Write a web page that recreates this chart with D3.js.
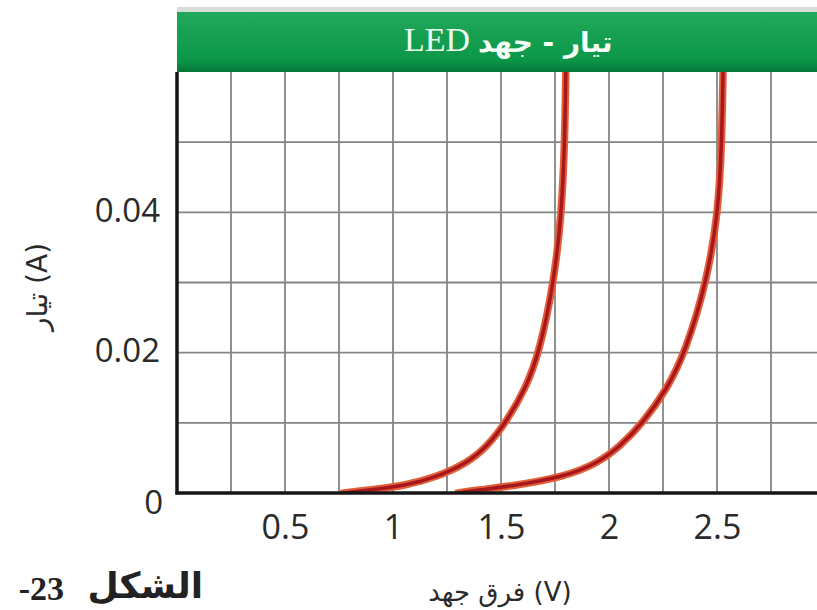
<!DOCTYPE html>
<html>
<head>
<meta charset="utf-8">
<script src="https://cdn.jsdelivr.net/npm/d3@7"></script>
<style>
  body { margin: 0; background: #fff; }
  svg { display: block; }
  .tick text { font-family: "Open Sans", sans-serif; fill: #2a2a2a; }
</style>
</head>
<body>
<div id="chart"></div>
<script>
// current (A), shared by both curves
const current = [0, 0.0004, 0.0011, 0.0023, 0.0042, 0.0066, 0.01, 0.015, 0.02, 0.03, 0.04, 0.05, 0.06];
// voltage (V) of the left and right LED at those currents
const voltsLeft  = [0.77, 0.89, 1.063, 1.202, 1.34, 1.435, 1.522, 1.616, 1.677, 1.745, 1.781, 1.795, 1.80];
const voltsRight = [1.30, 1.39, 1.573, 1.789, 1.945, 2.05, 2.158, 2.272, 2.352, 2.452, 2.506, 2.522, 2.528];

const xTicks = [0.5, 1, 1.5, 2, 2.5];
const yTicks = [0, 0.02, 0.04];
const xGrid = [0.25, 0.5, 0.75, 1, 1.25, 1.5, 1.75, 2, 2.25, 2.5, 2.75];
const yGrid = [0.01, 0.02, 0.03, 0.04, 0.05];

const titleLatin = "LED";
const titleArabic = "تيار - جهد";
const xLabel = "فرق جهد (V)";
const yLabel = "تيار (A)";
const captionWord = "الشكل";
const captionNum = "-23";

const width = 817, height = 610;

const svg = d3.select("#chart")
              .append("svg")
              .attr("width", width)
              .attr("height", height)
              .attr("viewBox", `0 0 ${width} ${height}`);

const x = d3.scaleLinear().domain([0, 3]).range([177, 825]);
const y = d3.scaleLinear().domain([0, 0.06]).range([493, 72]);

const defs = svg.append("defs");

// clip for the curves
defs.append("clipPath").attr("id", "plot")
    .append("rect")
    .attr("x", x(0)).attr("y", y(0.06))
    .attr("width", width - x(0)).attr("height", y(0) - y(0.06));

// header gradient
const grad = defs.append("linearGradient")
                 .attr("id", "hdr").attr("x1", 0).attr("x2", 0).attr("y1", 0).attr("y2", 1);
grad.append("stop").attr("offset", "0%").attr("stop-color", "#22a85a");
grad.append("stop").attr("offset", "80%").attr("stop-color", "#0c9748");
grad.append("stop").attr("offset", "100%").attr("stop-color", "#05763a");

// grey shadow + green title bar
svg.append("rect")
   .attr("x", x(0)).attr("y", 7)
   .attr("width", width).attr("height", 8)
   .attr("fill", "#d9dcd9");
svg.append("rect")
   .attr("x", x(0)).attr("y", 12)
   .attr("width", width).attr("height", y(0.06) - 12)
   .attr("fill", "url(#hdr)");

svg.append("text")
   .attr("x", 470).attr("y", 51)
   .attr("text-anchor", "end")
   .style("font-family", "'Liberation Serif', serif")
   .style("font-size", "34px")
   .attr("fill", "#eafbef")
   .text(titleLatin);

svg.append("text")
   .attr("x", 478).attr("y", 52)
   .attr("text-anchor", "start")
   .style("font-family", "'DejaVu Sans', sans-serif")
   .style("font-weight", "bold")
   .style("font-size", "28px")
   .attr("fill", "#f4fff6")
   .text(titleArabic);

// grid
const g = svg.append("g");

g.selectAll(".vgrid")
 .data(xGrid)
 .join("line")
 .attr("class", "vgrid")
 .attr("x1", d => x(d)).attr("x2", d => x(d))
 .attr("y1", y(0.06)).attr("y2", y(0))
 .attr("stroke", "#858585")
 .attr("stroke-width", 1.8);

g.selectAll(".hgrid")
 .data(yGrid)
 .join("line")
 .attr("class", "hgrid")
 .attr("x1", x(0)).attr("x2", width)
 .attr("y1", d => y(d)).attr("y2", d => y(d))
 .attr("stroke", "#858585")
 .attr("stroke-width", 1.8);

// curves (smoothed through the read points)
const line = d3.line()
               .x(d => x(d[0]))
               .y(d => y(d[1]))
               .curve(d3.curveBasis);

const curves = [voltsLeft, voltsRight].map(v => v.map((d, i) => [d, current[i]]));

const cg = svg.append("g").attr("clip-path", "url(#plot)");
cg.selectAll(".outer")
  .data(curves)
  .join("path")
  .attr("class", "outer")
  .attr("d", line)
  .attr("fill", "none")
  .attr("stroke", "#e0603a")
  .attr("stroke-width", 7.5)
  .attr("stroke-linecap", "round");
cg.selectAll(".inner")
  .data(curves)
  .join("path")
  .attr("class", "inner")
  .attr("d", line)
  .attr("fill", "none")
  .attr("stroke", "#a8161e")
  .attr("stroke-width", 3.5)
  .attr("stroke-linecap", "round");

// axes lines
svg.append("line")
   .attr("x1", x(0)).attr("x2", x(0))
   .attr("y1", y(0.06)).attr("y2", y(0) + 1.5)
   .attr("stroke", "#161616").attr("stroke-width", 3.5);
svg.append("line")
   .attr("x1", x(0) - 1.5).attr("x2", width)
   .attr("y1", y(0)).attr("y2", y(0))
   .attr("stroke", "#161616").attr("stroke-width", 3.5);

// tick labels
const xAxis = svg.append("g")
                 .attr("transform", `translate(0,${y(0)})`)
                 .call(d3.axisBottom(x).tickValues(xTicks).tickSize(0).tickPadding(0).tickFormat(d3.format("")));
xAxis.select(".domain").remove();
xAxis.selectAll("text")
     .attr("y", 46).attr("dy", 0)
     .style("font-size", "34px");

const yAxis = svg.append("g")
                 .attr("transform", `translate(${x(0)},0)`)
                 .call(d3.axisLeft(y).tickValues(yTicks).tickSize(0).tickPadding(17).tickFormat(d3.format("")));
yAxis.select(".domain").remove();
yAxis.selectAll("text")
     .attr("dy", d => d === 0 ? "0.62em" : "0.27em")
     .attr("x", d => d === 0 ? -14 : -17)
     .style("font-size", "33px");

// axis titles
svg.append("text")
   .attr("transform", "translate(47,287) rotate(-90)")
   .attr("text-anchor", "middle")
   .style("font-family", "'DejaVu Sans', sans-serif")
   .style("font-size", "28px")
   .attr("fill", "#2a2a2a")
   .text(yLabel);

svg.append("text")
   .attr("x", 500).attr("y", 601)
   .attr("text-anchor", "middle")
   .style("font-family", "'DejaVu Sans', sans-serif")
   .style("font-size", "26px")
   .attr("fill", "#2a2a2a")
   .text(xLabel);

// figure caption
svg.append("text")
   .attr("x", 203).attr("y", 598)
   .attr("text-anchor", "end")
   .style("font-family", "'DejaVu Sans', sans-serif")
   .style("font-weight", "bold")
   .style("font-size", "36px")
   .attr("fill", "#222")
   .text(captionWord);

svg.append("text")
   .attr("x", 64).attr("y", 600)
   .attr("text-anchor", "end")
   .style("font-family", "'Liberation Serif', serif")
   .style("font-weight", "bold")
   .style("font-size", "34px")
   .attr("fill", "#222")
   .text(captionNum);
</script>
</body>
</html>
